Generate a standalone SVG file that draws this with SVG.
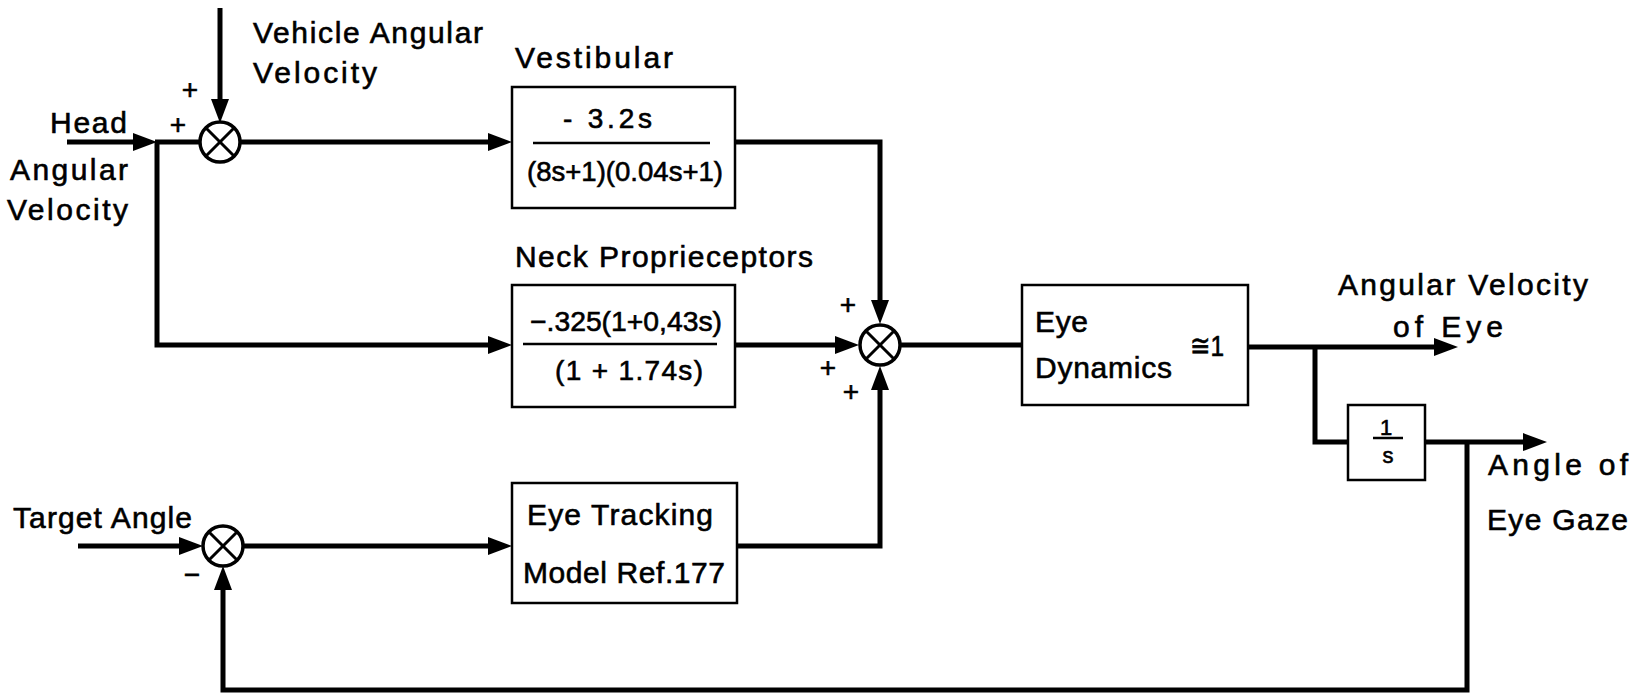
<svg xmlns="http://www.w3.org/2000/svg" width="1633" height="695" viewBox="0 0 1633 695">
<style>
.bg{fill:#fff}
.box{fill:none;stroke:#000;stroke-width:2.5}
.sum{fill:#fff;stroke:#000;stroke-width:3.5}
.x{stroke:#000;stroke-width:3}
.w{fill:none;stroke:#000;stroke-width:5}
.frac{stroke:#000;stroke-width:2.5}
text{font-family:"Liberation Sans",Arial,sans-serif;fill:#000;stroke:#000;stroke-width:0.6}
.lbl{font-size:30px}
.f{font-size:28px}
.sm{font-size:22px;text-anchor:middle}
.sg{font-size:28px;text-anchor:middle}
</style>
<defs>
<marker id="ah" markerUnits="userSpaceOnUse" markerWidth="26" markerHeight="20" refX="16" refY="10" orient="auto">
<path d="M0,1 L24,10 L0,19 Z" fill="#000"/>
</marker>
</defs>
<rect class="bg" x="0" y="0" width="1633" height="695"/>

<g id="connectors">
<path class="w" d="M220,8 V115" marker-end="url(#ah)"/>
<path class="w" d="M67,142 H149" marker-end="url(#ah)"/>
<path class="w" d="M155,142 H200"/>
<path class="w" d="M157,142 V345 H504" marker-end="url(#ah)"/>
<path class="w" d="M240,142 H504" marker-end="url(#ah)"/>
<path class="w" d="M735,142 H880 V316" marker-end="url(#ah)"/>
<path class="w" d="M735,345 H851" marker-end="url(#ah)"/>
<path class="w" d="M737,546 H880 V374" marker-end="url(#ah)"/>
<path class="w" d="M900,345 H1022"/>
<path class="w" d="M1248,347 H1450" marker-end="url(#ah)"/>
<path class="w" d="M1315,347 V442 H1348"/>
<path class="w" d="M1425,442 H1539" marker-end="url(#ah)"/>
<path class="w" d="M1467,442 V690 H223 V574" marker-end="url(#ah)"/>
<path class="w" d="M78,546 H195" marker-end="url(#ah)"/>
<path class="w" d="M243,546 H504" marker-end="url(#ah)"/>
</g>

<g id="sum1">
<circle class="sum" cx="220" cy="142" r="20"/>
<line class="x" x1="206" y1="128" x2="234" y2="156"/>
<line class="x" x1="234" y1="128" x2="206" y2="156"/>
<text class="sg" x="190" y="99">+</text>
<text class="sg" x="178" y="134">+</text>
</g>

<g id="sum2">
<circle class="sum" cx="880" cy="345" r="20"/>
<line class="x" x1="866" y1="331" x2="894" y2="359"/>
<line class="x" x1="894" y1="331" x2="866" y2="359"/>
<text class="sg" x="848" y="314">+</text>
<text class="sg" x="828" y="377">+</text>
<text class="sg" x="851" y="401">+</text>
</g>

<g id="sum3">
<circle class="sum" cx="223" cy="546" r="20"/>
<line class="x" x1="209" y1="532" x2="237" y2="560"/>
<line class="x" x1="237" y1="532" x2="209" y2="560"/>
<text class="sg" x="192" y="584">−</text>
</g>

<g id="inputs">
<text class="lbl" x="253" y="43" textLength="230" lengthAdjust="spacing">Vehicle Angular</text>
<text class="lbl" x="253" y="83" textLength="124" lengthAdjust="spacing">Velocity</text>
<text class="lbl" x="50" y="133" textLength="77" lengthAdjust="spacing">Head</text>
<text class="lbl" x="10" y="180" textLength="118" lengthAdjust="spacing">Angular</text>
<text class="lbl" x="7" y="220" textLength="121" lengthAdjust="spacing">Velocity</text>
<text class="lbl" x="13" y="528" textLength="179" lengthAdjust="spacing">Target Angle</text>
</g>

<g id="vestibular">
<text class="lbl" x="515" y="68" textLength="158" lengthAdjust="spacing">Vestibular</text>
<rect class="box" x="512" y="87" width="223" height="121"/>
<text class="f" x="563" y="128" textLength="89" lengthAdjust="spacing">- 3.2s</text>
<line class="frac" x1="533" y1="143" x2="710" y2="143"/>
<text class="f" x="527" y="181" textLength="196" lengthAdjust="spacingAndGlyphs">(8s+1)(0.04s+1)</text>
</g>

<g id="neck">
<text class="lbl" x="515" y="267" textLength="298" lengthAdjust="spacing">Neck Proprieceptors</text>
<rect class="box" x="512" y="285" width="223" height="122"/>
<text class="f" x="530" y="331" textLength="192" lengthAdjust="spacingAndGlyphs">−.325(1+0,43s)</text>
<line class="frac" x1="523" y1="344" x2="717" y2="344"/>
<text class="f" x="555" y="380" textLength="148" lengthAdjust="spacing">(1 + 1.74s)</text>
</g>

<g id="tracking">
<rect class="box" x="512" y="483" width="225" height="120"/>
<text class="lbl" x="527" y="525" textLength="186" lengthAdjust="spacing">Eye Tracking</text>
<text class="lbl" x="523" y="583" textLength="202" lengthAdjust="spacing">Model Ref.177</text>
</g>

<g id="eyedyn">
<rect class="box" x="1022" y="285" width="226" height="120"/>
<text class="lbl" x="1035" y="332" textLength="53" lengthAdjust="spacing">Eye</text>
<text class="lbl" x="1035" y="378" textLength="137" lengthAdjust="spacing">Dynamics</text>
<text class="lbl" x="1190" y="356" textLength="34" lengthAdjust="spacingAndGlyphs">≅1</text>
</g>

<g id="integrator">
<rect class="box" x="1348" y="405" width="77" height="75"/>
<text class="sm" x="1386" y="435">1</text>
<line class="frac" x1="1373" y1="438" x2="1403" y2="438"/>
<text class="sm" x="1388" y="463">s</text>
</g>

<g id="outputs">
<text class="lbl" x="1338" y="295" textLength="250" lengthAdjust="spacing">Angular Velocity</text>
<text class="lbl" x="1393" y="337" textLength="110" lengthAdjust="spacing">of Eye</text>
<text class="lbl" x="1488" y="475" textLength="140" lengthAdjust="spacing">Angle of</text>
<text class="lbl" x="1487" y="530" textLength="141" lengthAdjust="spacing">Eye Gaze</text>
</g>
</svg>
